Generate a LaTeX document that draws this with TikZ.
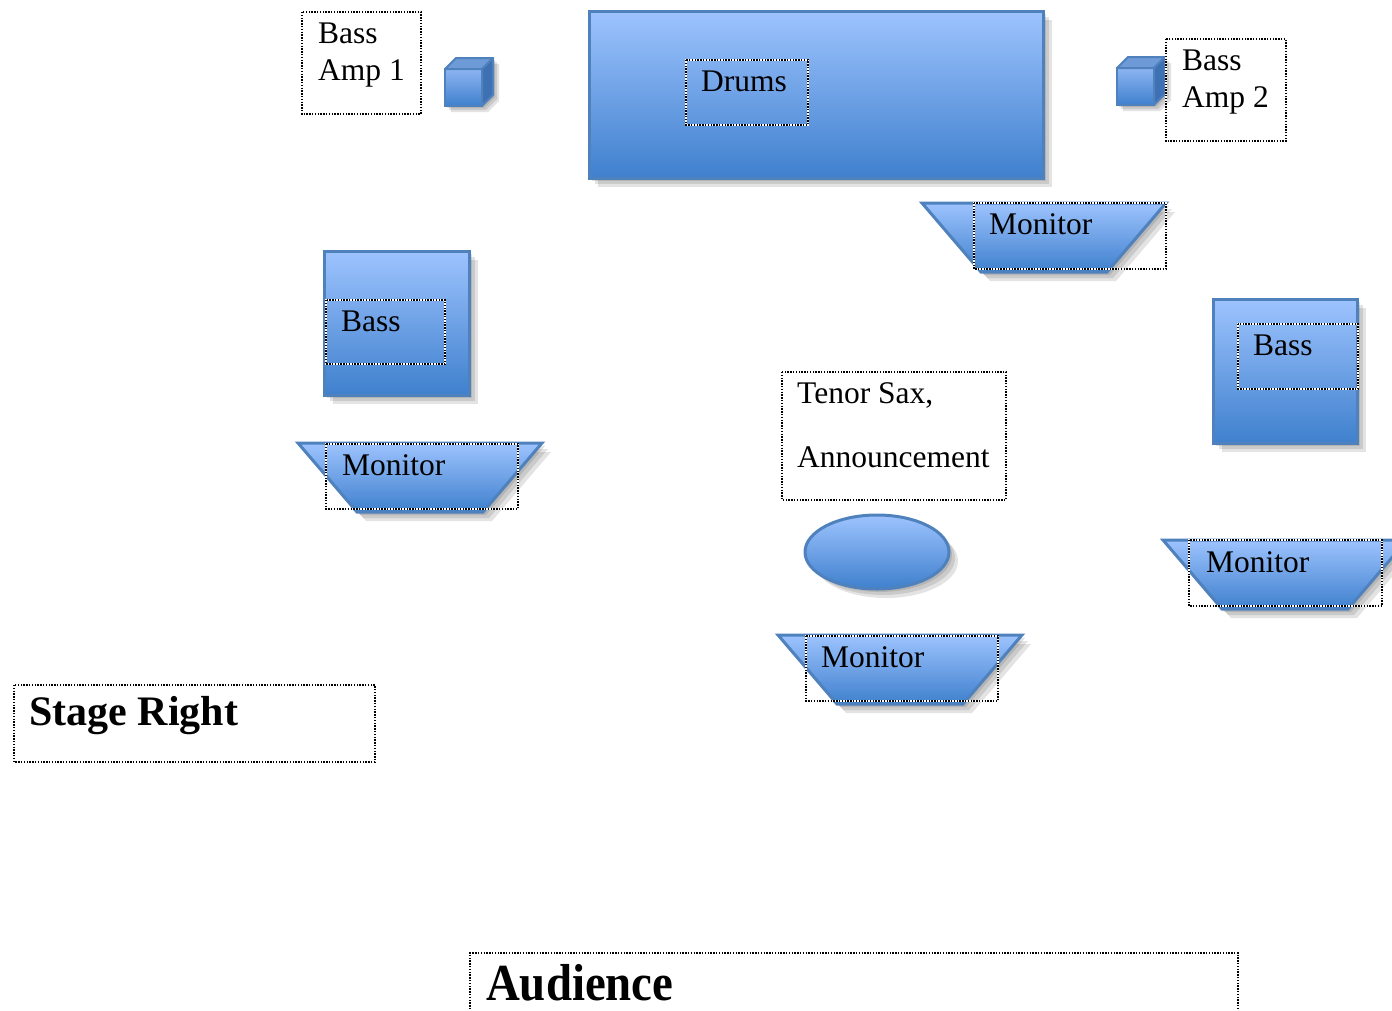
\documentclass[tikz,border=0pt]{standalone}
\usepackage{fontspec}
\setmainfont{Liberation Serif}
\usepackage{graphicx}
\definecolor{bluetop}{HTML}{9DC3FE}
\definecolor{bluebot}{HTML}{3F80CD}
\definecolor{blueedge}{HTML}{4F81BD}
\definecolor{cubetop}{HTML}{8DB4F2}
\definecolor{cubetopface}{HTML}{6F9AD8}
\definecolor{cuberight}{HTML}{3E70B4}
\begin{document}
\begin{tikzpicture}[x=1pt,y=-1pt,
  stagefill/.style={top color=bluetop,bottom color=bluebot,draw=blueedge,line width=3pt},
  shadowlayer/.style={fill=black,opacity=0.11},
  dotbox/.style={preaction={draw=white,line width=1.4pt},draw=black,line width=1.4pt,dash pattern=on 1.4pt off 1.4pt},
  lbl/.style={anchor=base west,inner sep=0pt,font=\fontsize{31.5}{36}\selectfont},
  biglbl/.style={anchor=base west,inner sep=0pt,font=\bfseries\fontsize{42}{48}\selectfont},
  monshape/.pic={
    \foreach \o in {3,6,9} \fill[shadowlayer,shift={(\o,\o)}] (0,0) -- (244,0) -- (185,69) -- (59,69) -- cycle;
    \path[stagefill] (0,0) -- (244,0) -- (185,69) -- (59,69) -- cycle;
  },
  cubeshape/.pic={
    \foreach \o in {2,4,6} \fill[shadowlayer,shift={(\o,\o)}] (0,0) -- (11,-11) -- (48,-11) -- (48,26) -- (37,37) -- (0,37) -- cycle;
    \path[top color=cubetop,bottom color=bluebot,draw=blueedge,line width=2pt] (0,0) rectangle (37,37);
    \path[fill=cubetopface,draw=blueedge,line width=2pt,line join=round] (0,0) -- (11,-11) -- (48,-11) -- (37,0) -- cycle;
    \path[fill=cuberight,draw=blueedge,line width=2pt,line join=round] (37,0) -- (48,-11) -- (48,26) -- (37,37) -- cycle;
  }
]
\useasboundingbox (0,0) rectangle (1392,1010);

% Drums riser
\foreach \o in {3,6,9} \fill[shadowlayer,shift={(\o,\o)}] (589,11) rectangle (1043,178);
\path[stagefill] (589,11) rectangle (1043,178);

% Bass blocks
\foreach \o in {3,6,9} \fill[shadowlayer,shift={(\o,\o)}] (324,251) rectangle (469,395);
\path[stagefill] (324,251) rectangle (469,395);
\foreach \o in {3,6,9} \fill[shadowlayer,shift={(\o,\o)}] (1213,299) rectangle (1357,443);
\path[stagefill] (1213,299) rectangle (1357,443);

% Sax position
\foreach \o in {3,6,9} \fill[shadowlayer,shift={(\o,\o)}] (877,552) ellipse [x radius=72, y radius=37];
\path[stagefill] (877,552) ellipse [x radius=72, y radius=37];

% Amps
\pic at (445,69) {cubeshape};
\pic at (1117,68) {cubeshape};

% Monitors
\pic at (922,203) {monshape};
\pic at (298,443) {monshape};
\pic at (778,635) {monshape};
\pic at (1163,540) {monshape};

% Dotted text boxes
\draw[dotbox] (302,12) rectangle (421,114);
\draw[dotbox] (1166,39) rectangle (1286,141);
\draw[dotbox] (686,60) rectangle (808,125);
\draw[dotbox] (974,203) rectangle (1166,269);
\draw[dotbox] (326,300) rectangle (445,364);
\draw[dotbox] (1238,324) rectangle (1358,389);
\draw[dotbox] (782,372) rectangle (1006,500);
\draw[dotbox] (326,444) rectangle (518,509);
\draw[dotbox] (806,636) rectangle (998,701);
\draw[dotbox] (1189,540) rectangle (1382,606);
\draw[dotbox] (14,685) rectangle (375,762);
\draw[dotbox] (470,1015) -- (470,953) -- (1238,953) -- (1238,1015);

% Labels
\node[lbl] (amp1a) at (318,43) {Bass};
\node[lbl] (amp1b) at (318,80) {Amp 1};
\node[lbl] (amp2a) at (1182,70) {Bass};
\node[lbl] (amp2b) at (1182,107) {Amp 2};
\node[lbl] (drums) at (701,91) {Drums};
\node[lbl] (montr) at (989,234) {Monitor};
\node[lbl] (bassl) at (341,331) {Bass};
\node[lbl] (bassr) at (1253,355) {Bass};
\node[lbl] (saxa) at (797,403) {Tenor Sax,};
\node[lbl] (saxb) at (797,467) {Announcement};
\node[lbl] (monl) at (342,475) {Monitor};
\node[lbl] (monm) at (821,667) {Monitor};
\node[lbl] (monr) at (1206,572) {Monitor};
\node[biglbl] (stage) at (29,725) {Stage Right};
\node[anchor=base west,inner sep=0pt,font=\bfseries\fontsize{52}{60}\selectfont] (aud) at (486,1000) {\scalebox{0.9}[1]{Audience}};
\end{tikzpicture}
\end{document}
